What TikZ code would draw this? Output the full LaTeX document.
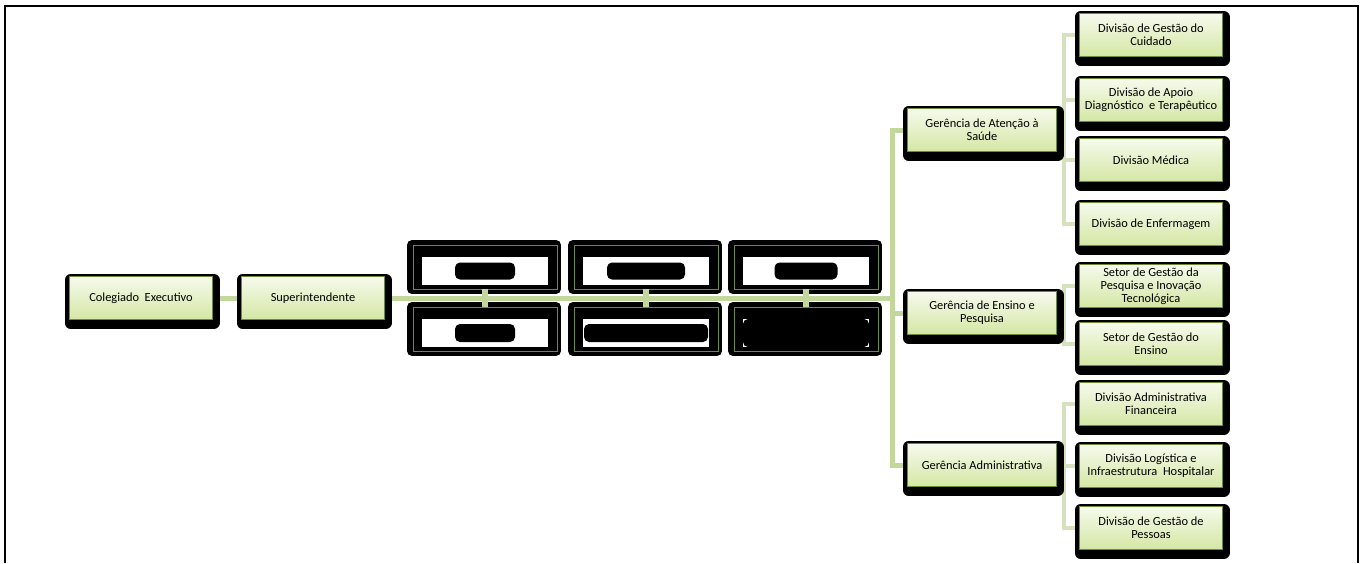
\documentclass[tikz,border=0pt]{standalone}
\usepackage{fontspec}
\setmainfont{Carlito}
\usetikzlibrary{calc,backgrounds}
\definecolor{boxtop}{RGB}{246,250,237}
\definecolor{boxbot}{RGB}{212,231,164}
\definecolor{boxline}{RGB}{110,138,58}
\definecolor{linkmain}{RGB}{195,214,155}
\definecolor{linkside}{RGB}{214,226,190}
\tikzset{
  blackrim/.style={preaction={draw=black, fill=black, line width=6pt, line join=round,
    transform canvas={xshift=0.5pt, yshift=-1.75pt}}},
  hidrim/.style={preaction={draw=black, fill=black, line width=5pt, line join=round,
    transform canvas={xshift=-0.5pt}}},
  unit/.style={blackrim, draw=boxline, line width=0.4pt, top color=boxtop, bottom color=boxbot,
    minimum width=71.5pt, minimum height=21.5pt, inner sep=1pt, align=center,
    font=\fontsize{6.2}{6.6}\selectfont},
  ger/.style={unit, minimum width=74.5pt},
  hid/.style={hidrim, draw=boxline, line width=0.4pt, fill=black, minimum width=72pt, minimum height=22pt},
  link/.style={draw=linkmain, line width=2.5pt},
  sublink/.style={draw=linkside, line width=2pt}
}

\begin{document}
\begin{tikzpicture}[x=0.5pt, y=-0.5pt]
  %%%%% START %%%%%
  \useasboundingbox (0,0) rectangle (1365,563);
  \draw[line width=1pt] (5,563) -- (5,6) -- (1358,6) -- (1358,563);

  % left part
  \node[unit] (cole) at (141,298) {Colegiado\ \ Executivo};
  \node[unit] (sup) at (313,298) {Superintendente};

  % hidden boxes
  \node[hid] (t1) at (485,267) {};
  \node[hid] (t2) at (646,267) {};
  \node[hid] (t3) at (806,267) {};
  \node[hid] (b1) at (485,329) {};
  \node[hid] (b2) at (646,329) {};
  \node[hid] (b3) at (806,329) {};
  \foreach \n/\w/\h in {t1/60/17, t2/78/17, t3/63/17, b1/60/18, b2/124/18, b3/126/28} {
    \fill[white] ($(\n.north west)+(9,12)$) rectangle ($(\n.south east)+(-9,-4)$);
    \fill[black, rounded corners=2.5pt] ($(\n.center)+(0,4)$) ++(-\w/2,-\h/2) rectangle ++(\w,\h);
  }

  % gerencias
  \node[ger] (gat) at (982,130) {Gerência de Atenção à\\Saúde};
  \node[ger] (gen) at (982,313) {Gerência de Ensino e\\Pesquisa};
  \node[ger] (gad) at (982,465) {Gerência Administrativa};

  % divisoes
  \node[unit] (dcu) at (1151,35) {Divisão de Gestão do\\Cuidado};
  \node[unit] (dap) at (1151,100) {Divisão de Apoio\\Diagnóstico\ \ e Terapêutico};
  \node[unit] (dme) at (1151,160) {Divisão Médica};
  \node[unit] (den) at (1151,224) {Divisão de Enfermagem};
  \node[unit] (spi) at (1151,286) {Setor de Gestão da\\Pesquisa e Inovação\\Tecnológica};
  \node[unit] (sen) at (1151,344) {Setor de Gestão do\\Ensino};
  \node[unit] (dfi) at (1151,404) {Divisão Administrativa\\Financeira};
  \node[unit] (dlo) at (1151,466) {Divisão Logística e\\Infraestrutura\ \ Hospitalar};
  \node[unit] (dpe) at (1151,528) {Divisão de Gestão de\\Pessoas};

  \coordinate (tr) at (892,298);
  \coordinate (rx) at (1064,0);

  \begin{scope}[on background layer]
    \draw[link] (cole) -- (sup);
    \draw[link] (sup) -- (tr);
    \draw[link] (gat.west) -| (tr) |- (gad.west);
    \draw[link] (gen.west) -- (gen.west -| tr);

    \draw[sublink] (gat) -- (gat -| rx);
    \draw[sublink] (dcu.west) -| (rx |- den.west) -- (den.west);
    \draw[sublink] (dap.west) -- (dap.west -| rx);
    \draw[sublink] (dme.west) -- (dme.west -| rx);

    \draw[sublink] (gen) -- (gen -| rx);
    \draw[sublink] (spi.west) -| (rx |- sen.west) -- (sen.west);

    \draw[sublink] (gad) -- (gad -| rx);
    \draw[sublink] (dfi.west) -| (rx |- dpe.west) -- (dpe.west);
    \draw[sublink] (dlo.west) -- (dlo.west -| rx);
  \end{scope}

  % stubs to hidden boxes
  \draw[link, line width=3pt] (t1.south) -- (b1.north);
  \draw[link, line width=3pt] (t2.south) -- (b2.north);
  \draw[link, line width=3pt] (t3.south) -- (b3.north);
  %%%%% END %%%%%
\end{tikzpicture}
\end{document}
